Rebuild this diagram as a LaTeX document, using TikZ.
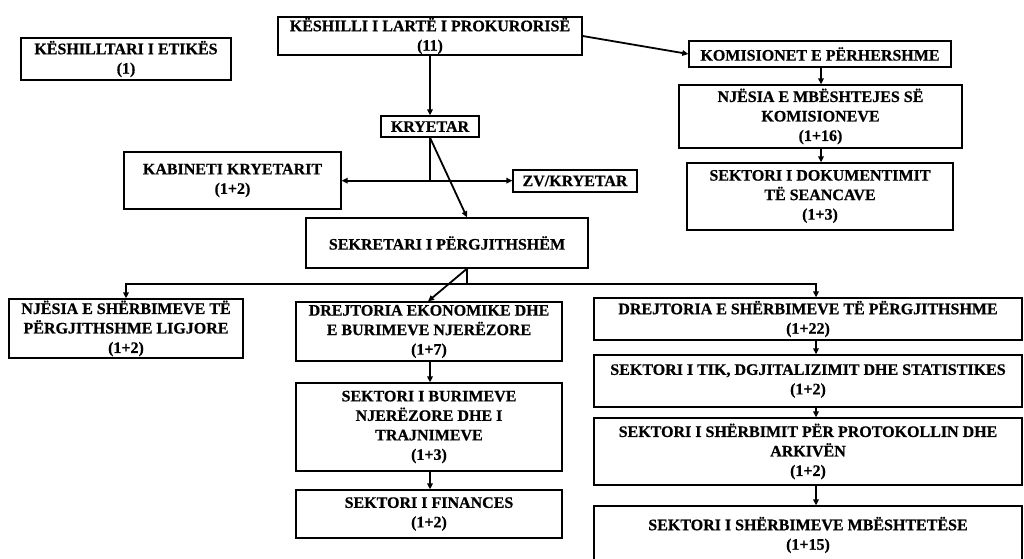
\documentclass[tikz,border=0pt]{standalone}
\usepackage{fontspec}
\setmainfont{Liberation Serif}[BoldFeatures={FakeBold=0.6}]
\usetikzlibrary{arrows.meta}
\begin{document}
\begin{tikzpicture}[x=1pt,y=-1pt,
  box/.style={draw=black, line width=1.3pt, align=center, inner sep=0pt,
    font=\bfseries\fontsize{16}{19.5}\selectfont},
  arr/.style={line width=1.8pt, -{Triangle[length=6pt,width=5.5pt]}},
  ln/.style={line width=1.8pt}]
\clip (0,0) rectangle (1024,558);
\fill[white] (0,0) rectangle (1024,558);
% top
\node[box, minimum width=210pt, minimum height=42pt] (etika) at (126,59) {KËSHILLTARI I ETIKËS\\(1)};
\node[box, minimum width=304pt, minimum height=38pt] (kesh) at (430,36) {KËSHILLI I LARTË I PROKURORISË\\(11)};
\node[box, minimum width=262pt, minimum height=26pt] (komis) at (820,54) {KOMISIONET E PËRHERSHME};
\node[box, minimum width=283pt, minimum height=63pt] (njmb) at (820.5,116.5) {NJËSIA E MBËSHTEJES SË\\KOMISIONEVE\\(1+16)};
\node[box, minimum width=266pt, minimum height=67pt] (sekdok) at (820,196.5) {SEKTORI I DOKUMENTIMIT\\TË SEANCAVE\\(1+3)};
% middle
\node[box, minimum width=98pt, minimum height=21pt] (kryetar) at (430,126.5) {KRYETAR};
\node[box, minimum width=217pt, minimum height=57pt] (kabinet) at (232.5,180.5) {KABINETI KRYETARIT\\(1+2)};
\node[box, minimum width=124pt, minimum height=22pt] (zv) at (575,181) {ZV/KRYETAR};
\node[box, minimum width=282pt, minimum height=50pt] (sekr) at (447,243) {SEKRETARI I PËRGJITHSHËM};
% bottom left
\node[box, minimum width=234pt, minimum height=59pt] (njsh) at (126,328.5) {NJËSIA E SHËRBIMEVE TË\\PËRGJITHSHME LIGJORE\\(1+2)};
\node[box, minimum width=266pt, minimum height=59pt] (drek) at (429,331.5) {DREJTORIA EKONOMIKE DHE\\E BURIMEVE NJERËZORE\\(1+7)};
\node[box, minimum width=266pt, minimum height=88pt] (sekbur) at (429,427) {SEKTORI I BURIMEVE\\NJERËZORE DHE I\\TRAJNIMEVE\\(1+3)};
\node[box, minimum width=266pt, minimum height=48pt] (sekfin) at (429,514) {SEKTORI I FINANCES\\(1+2)};
% bottom right
\node[box, minimum width=428pt, minimum height=42pt] (dresh) at (808,319) {DREJTORIA E SHËRBIMEVE TË PËRGJITHSHME\\(1+22)};
\node[box, minimum width=428pt, minimum height=52pt] (sektik) at (808,381) {SEKTORI I TIK, DGJITALIZIMIT DHE STATISTIKES\\(1+2)};
\node[box, minimum width=428pt, minimum height=67pt] (sekprot) at (808,451.5) {SEKTORI I SHËRBIMIT PËR PROTOKOLLIN DHE\\ARKIVËN\\(1+2)};
\node[box, minimum width=428pt, minimum height=58pt] (sekmb) at (808,535) {SEKTORI I SHËRBIMEVE MBËSHTETËSE\\(1+15)};
% connectors top
\draw[arr] (kesh.south) -- (kryetar.north);
\draw[arr] (kesh.east) -- (komis.west);
\draw[arr] ([xshift=1pt]komis.south) -- ([xshift=0.5pt]njmb.north);
\draw[arr] ([xshift=0.5pt]njmb.south) -- ([xshift=1pt]sekdok.north);
% kryetar
\coordinate (kb) at ([yshift=-43pt]kryetar.south);
\draw[ln, line width=2.4pt] (kryetar.south) -- (kb);
\draw[arr] (kb) -- (kb -| kabinet.east);
\draw[arr] (kb) -- (kb -| zv.west);
\draw[arr] (kryetar.south) -- ([xshift=20pt]sekr.north);
% sekretari
\coordinate (hub) at ([xshift=20pt,yshift=-15pt]sekr.south);
\draw[ln] ([xshift=20pt]sekr.south) -- (hub);
\draw[arr] (hub) -| (njsh.north);
\draw[arr] (hub) -| ([xshift=8pt]dresh.north);
\draw[arr] ([xshift=20pt]sekr.south) -- ([xshift=-1pt]drek.north);
% left-middle column
\draw[arr] ([xshift=1pt]drek.south) -- ([xshift=1pt]sekbur.north);
\draw[arr] ([xshift=1pt]sekbur.south) -- ([xshift=1pt]sekfin.north);
% right column
\draw[arr] ([xshift=8pt]dresh.south) -- ([xshift=8pt]sektik.north);
\draw[arr] ([xshift=8pt]sektik.south) -- ([xshift=8pt]sekprot.north);
\draw[arr] ([xshift=8pt]sekprot.south) -- ([xshift=8pt]sekmb.north);
\end{tikzpicture}
\end{document}
